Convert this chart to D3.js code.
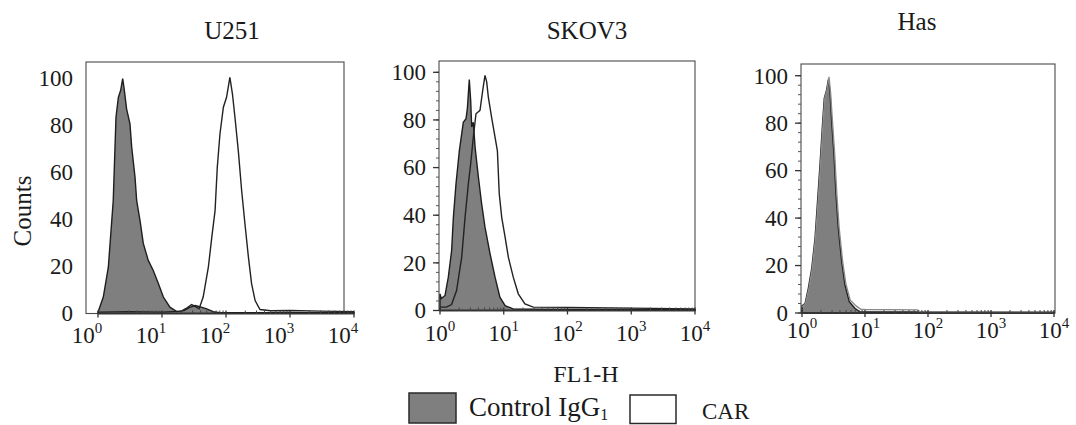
<!DOCTYPE html>
<html>
<head>
<meta charset="utf-8">
<script src="https://cdn.jsdelivr.net/npm/d3@7"></script>
<style>
  body { margin: 0; background: #fff; }
  svg text { font-family: "Liberation Serif", "Times New Roman", serif; fill: #1a1a1a; }
</style>
</head>
<body>
<svg id="chart" width="1076" height="425"></svg>
<script>
// histogram values: [FL1-H, counts]
var u251Control = [[1.0,0.5],[1.21,7],[1.45,19.7],[1.73,48],[1.91,83.5],[2.08,92],[2.26,95],[2.43,100],[2.55,96],[2.8,87],[3.16,80.7],[3.36,70.8],[3.79,58],[4.02,48],[4.53,39.6],[5.1,29.8],[6.1,22.6],[7.3,18.3],[8.8,12.7],[10.5,7],[13.3,2.7],[17,0.8],[22,1.2],[27,2.6],[33,3.4],[40,2.8],[50,2],[63,0.8],[80,0.3],[10000,0.3]];
var u251Car = [[1,0.6],[3,0.8],[10,0.6],[20,1],[25,2.5],[29,3.8],[33,3],[38,2],[44,7],[53,19.7],[60,32.5],[67.5,43.8],[73,62],[80.5,76.5],[91,87.8],[102,92],[115,100.5],[126,93.5],[138,83.5],[156,69],[176,52],[198,38],[224,24],[251,12.7],[285,5.5],[340,1.7],[500,1.2],[1000,1.3],[3000,1],[10000,0.8]];

var skov3Control = [[1,7],[1.05,5],[1.2,6.3],[1.35,14],[1.52,25],[1.62,39],[1.78,53],[2.01,67],[2.32,79],[2.56,80.5],[2.69,85],[2.88,97],[3.03,88],[3.14,77],[3.33,79],[3.55,68.6],[4.0,56],[4.5,44.8],[5.08,35],[6.1,23.8],[7.3,14],[8.7,5.6],[10.5,2],[14,0.7],[10000,0.3]];
var skov3Car = [[1,1.4],[1.26,1.4],[1.52,2.5],[1.82,8.4],[2.19,22.4],[2.47,39],[2.78,53],[3.03,61.6],[3.33,72.8],[3.67,82.6],[4.24,84],[4.68,92.4],[5.08,98.7],[5.4,96],[5.73,89.6],[6.46,81],[7.3,72.8],[7.95,67],[8.5,49],[9.3,39],[10.5,30.8],[11.8,22.4],[14.1,14],[16.9,7],[21.5,2.8],[29,1.4],[100,1.3],[1000,1],[10000,0.7]];

var hasControl = [[1,3],[1.12,4],[1.26,10.4],[1.43,18.9],[1.61,31.5],[1.75,45.6],[1.93,62.4],[2.13,80.7],[2.26,90.6],[2.46,94],[2.62,98.3],[2.78,93.4],[2.96,80.7],[3.22,66.7],[3.47,49.8],[3.77,35.7],[4.27,21.6],[4.82,11.8],[5.63,4.8],[6.9,2],[8.3,0.5],[10000,0.3]];
var hasCar = [[1,2.5],[1.14,4],[1.29,10.4],[1.46,18.9],[1.64,31.5],[1.79,45.6],[1.97,62.4],[2.17,80.7],[2.3,90.6],[2.5,94],[2.68,99.5],[2.84,93],[3.02,82],[3.3,67],[3.57,50],[3.88,36],[4.4,22],[4.95,12.5],[5.8,5.5],[7.2,3],[8.6,1.6],[10,1.5],[68,1.3],[75,0.5],[10000,0.4]];

var panelNames = ["U251", "SKOV3", "Has"];
var yTicks = [0, 20, 40, 60, 80, 100];
var xTicks = [1, 10, 100, 1000, 10000];
var legendLabels = ["Control IgG", "CAR"];

// layout of each panel
var panels = [
  {name: panelNames[0], ctrl: u251Control, car: u251Car, frame: [86, 62, 344, 313.5],
   xr: [98, 354], y0: 313.5, y100: 78.5, titleX: 232, titleY: 39, labelDx: -11, labelY: 343,
   yTickMarks: false, carColor: "#222"},
  {name: panelNames[1], ctrl: skov3Control, car: skov3Car, frame: [439, 61, 695, 310.5],
   xr: [440, 695], y0: 310.5, y100: 72.3, titleX: 587, titleY: 39, labelDx: 0, labelY: 341,
   yTickMarks: true, carColor: "#222"},
  {name: panelNames[2], ctrl: hasControl, car: hasCar, frame: [801, 64, 1055, 313],
   xr: [802, 1054], y0: 313, y100: 75.7, titleX: 917, titleY: 30, labelDx: 0, labelY: 338,
   yTickMarks: true, carColor: "#8a8a8a"}
];

var svg = d3.select("#chart");

panels.forEach(function(p) {
  var g = svg.append("g");
  var x = d3.scaleLog().domain([1, 10000]).range(p.xr);
  var y = d3.scaleLinear().domain([0, 100]).range([p.y0, p.y100]);

  // frame
  g.append("rect")
    .attr("x", p.frame[0]).attr("y", p.frame[1])
    .attr("width", p.frame[2] - p.frame[0]).attr("height", p.frame[3] - p.frame[1])
    .attr("fill", "none").attr("stroke", "#4a4a4a").attr("stroke-width", 1.1);

  // control histogram (filled)
  var area = d3.area()
    .x(function(d) { return x(d[0]); })
    .y0(y(0))
    .y1(function(d) { return y(d[1]); });
  g.append("path").datum(p.ctrl)
    .attr("d", area)
    .attr("fill", "#7f7f7f")
    .attr("stroke", "#1e1e1e").attr("stroke-width", 1.4);

  // CAR histogram (open)
  var line = d3.line()
    .x(function(d) { return x(d[0]); })
    .y(function(d) { return y(d[1]); });
  g.append("path").datum(p.car)
    .attr("d", line)
    .attr("fill", "none")
    .attr("stroke", p.carColor).attr("stroke-width", 1.4);

  // x axis: major ticks down, log minor ticks up
  var xa = g.append("g").attr("transform", "translate(0," + y(0) + ")");
  xa.append("line").attr("x1", p.xr[0]).attr("x2", p.xr[1])
    .attr("stroke", "#333").attr("stroke-width", 1.3);
  var minor = [];
  for (var dec = 1; dec < 10000; dec *= 10) {
    for (var k = 2; k < 10; k++) minor.push(dec * k);
  }
  xa.selectAll("line.minor").data(minor).enter().append("line")
    .attr("class", "minor")
    .attr("x1", function(d) { return x(d); }).attr("x2", function(d) { return x(d); })
    .attr("y1", 0).attr("y2", -3)
    .attr("stroke", "#444").attr("stroke-width", 1);
  xa.selectAll("line.major").data(xTicks).enter().append("line")
    .attr("class", "major")
    .attr("x1", function(d) { return x(d); }).attr("x2", function(d) { return x(d); })
    .attr("y1", -3).attr("y2", 4)
    .attr("stroke", "#333").attr("stroke-width", 1.3);

  var lbl = g.selectAll("text.xl").data(xTicks).enter().append("text")
    .attr("class", "xl")
    .attr("x", function(d) { return x(d) + p.labelDx; })
    .attr("y", p.labelY)
    .attr("text-anchor", "middle")
    .style("font-size", "23px");
  lbl.append("tspan").text("10");
  lbl.append("tspan").attr("dy", -10).style("font-size", "15px")
    .text(function(d) { return Math.round(Math.log10(d)); });

  // y axis
  if (p.yTickMarks) {
    var yMinor = d3.range(0, 101, 4);
    g.selectAll("line.ym").data(yMinor).enter().append("line")
      .attr("x1", p.frame[0]).attr("x2", p.frame[0] - 3)
      .attr("y1", function(d) { return y(d); }).attr("y2", function(d) { return y(d); })
      .attr("stroke", "#555").attr("stroke-width", 1);
    g.selectAll("line.yM").data(yTicks).enter().append("line")
      .attr("x1", p.frame[0]).attr("x2", p.frame[0] - 6)
      .attr("y1", function(d) { return y(d); }).attr("y2", function(d) { return y(d); })
      .attr("stroke", "#333").attr("stroke-width", 1.3);
  }
  g.selectAll("text.yl").data(yTicks).enter().append("text")
    .attr("x", p.frame[0] - 13)
    .attr("y", function(d) { return y(d) + 7.8; })
    .attr("text-anchor", "end")
    .style("font-size", "23px")
    .text(function(d) { return d; });

  // title
  g.append("text")
    .attr("x", p.titleX).attr("y", p.titleY)
    .attr("text-anchor", "middle")
    .style("font-size", "25px")
    .text(p.name);
});

// shared axis titles
svg.append("text")
  .attr("transform", "translate(31,211) rotate(-90)")
  .attr("text-anchor", "middle")
  .style("font-size", "25px")
  .text("Counts");

svg.append("text")
  .attr("x", 586).attr("y", 382)
  .attr("text-anchor", "middle")
  .style("font-size", "24px")
  .text("FL1-H");

// legend
svg.append("rect").attr("x", 409).attr("y", 393).attr("width", 47).attr("height", 30)
  .attr("fill", "#7f7f7f").attr("stroke", "#2a2a2a").attr("stroke-width", 1.5);
var ctl = svg.append("text").attr("x", 469).attr("y", 416).style("font-size", "27px");
ctl.append("tspan").text(legendLabels[0]);
ctl.append("tspan").attr("dy", 4).style("font-size", "16px").text("1");

svg.append("rect").attr("x", 630).attr("y", 395).attr("width", 46).attr("height", 28.5)
  .attr("fill", "#fff").attr("stroke", "#2a2a2a").attr("stroke-width", 1.5);
svg.append("text").attr("x", 702).attr("y", 419).style("font-size", "23px").text(legendLabels[1]);
</script>
</body>
</html>
